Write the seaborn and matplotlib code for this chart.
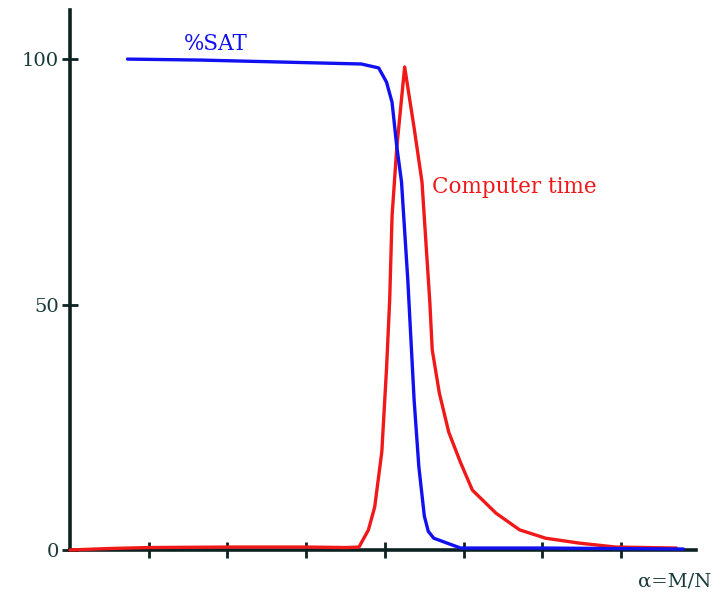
import matplotlib
matplotlib.use("Agg")
import matplotlib.pyplot as plt
import seaborn as sns
import pandas as pd

# %SAT curve
sat_alpha = [0.73, 1.66, 2.68, 3.70, 3.92, 4.02, 4.09, 4.15, 4.21, 4.29, 4.37, 4.43, 4.50, 4.55, 4.62, 4.96, 6.0, 7.79]
sat_value = [100.0, 99.8, 99.4, 99.0, 98.2, 95.3, 91.2, 82.2, 75.0, 55.0, 30.6, 17.0, 6.9, 3.8, 2.4, 0.4, 0.4, 0.2]

# Computer time curve
time_alpha = [0.0, 0.5, 1.0, 2.0, 3.0, 3.5, 3.67, 3.79, 3.87, 3.96, 4.02, 4.06, 4.09, 4.15, 4.25,
              4.37, 4.47, 4.57, 4.60, 4.69, 4.81, 4.96, 5.11, 5.41, 5.71, 6.04, 6.47, 6.93, 7.70]
time_value = [0.0, 0.3, 0.5, 0.6, 0.6, 0.5, 0.6, 4.1, 8.8, 20.0, 37.0, 51.0, 68.0, 82.0, 98.4,
              86.0, 75.0, 50.4, 40.8, 32.0, 24.0, 17.8, 12.2, 7.5, 4.1, 2.4, 1.4, 0.6, 0.4]

x_ticks = [1, 2, 3, 4, 5, 6, 7]
y_ticks = [0, 50, 100]
y_tick_labels = ["0", "50", "100"]

sns.set_style("white")
plt.rcParams["font.family"] = ["DejaVu Serif"]

fig = plt.figure(figsize=(7.21, 5.95), dpi=100)
ax = fig.add_axes([70 / 721, 1 - 550 / 595, 626 / 721, 540 / 595])

blue = "#1010f0"
red = "#f01818"
sat_df = pd.DataFrame({"alpha": sat_alpha, "value": sat_value})
time_df = pd.DataFrame({"alpha": time_alpha, "value": time_value})

sns.lineplot(data=time_df, x="alpha", y="value", ax=ax, color=red, linewidth=2.4,
             clip_on=False, estimator=None, sort=False, zorder=3)
sns.lineplot(data=sat_df, x="alpha", y="value", ax=ax, color=blue, linewidth=2.4,
             clip_on=False, estimator=None, sort=False, zorder=4)

ax.set_xlim(0, 7.95)
ax.set_ylim(0, 110)
ax.set_xticks(x_ticks)
ax.set_xticklabels([])
ax.set_yticks(y_ticks)
ax.set_yticklabels(y_tick_labels)

axis_color = "#0c2222"
for s in ["top", "right"]:
    ax.spines[s].set_visible(False)
for s in ["left", "bottom"]:
    ax.spines[s].set_color(axis_color)
    ax.spines[s].set_linewidth(2.6)
    ax.spines[s].set_zorder(2)

ax.tick_params(axis="both", direction="inout", length=12, width=2, color=axis_color,
               labelsize=14, labelcolor="#1a3a3a", pad=2, left=True, bottom=True)
ax.set_xlabel("")
ax.set_ylabel("")

ax.text(1.85, 103, "%SAT", color=blue, fontsize=15.5, ha="center", va="center")
ax.text(4.60, 74, "Computer time", color=red, fontsize=15.5, ha="left", va="center")
fig.text(675 / 721, 1 - 582 / 595, "α=M/N", color="#1a3a3a", fontsize=14, ha="center", va="center")

fig.savefig("out.png", dpi=100)
